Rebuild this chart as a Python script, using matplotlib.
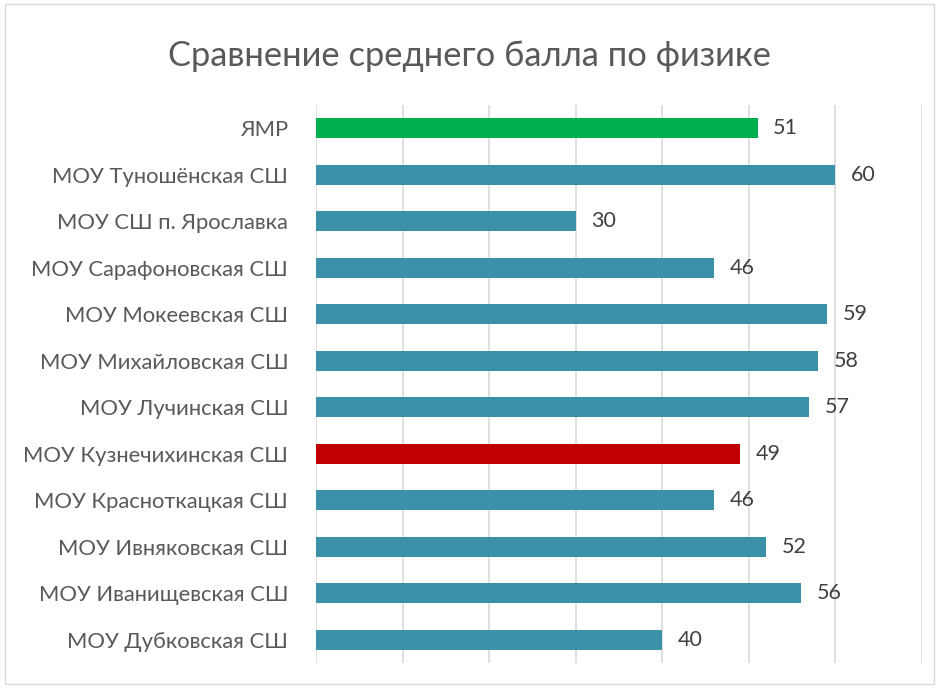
import matplotlib
matplotlib.use("Agg")
import matplotlib.pyplot as plt

categories = ["МОУ Дубковская СШ", "МОУ Иванищевская СШ", "МОУ Ивняковская СШ",
              "МОУ Красноткацкая СШ", "МОУ Кузнечихинская СШ", "МОУ Лучинская СШ",
              "МОУ Михайловская СШ", "МОУ Мокеевская СШ", "МОУ Сарафоновская СШ",
              "МОУ СШ п. Ярославка", "МОУ Туношёнская СШ", "ЯМР"]
values = [40, 56, 52, 46, 49, 57, 58, 59, 46, 30, 60, 51]
highlight = {"МОУ Кузнечихинская СШ": "#C00000", "ЯМР": "#00B050"}
base_color = "#3A91A8"
title = "Сравнение среднего балла по физике"

plt.rcParams['font.family'] = ['Lato', 'DejaVu Sans']

fig = plt.figure(figsize=(9.39, 6.88), dpi=100)
ax = fig.add_axes([316/939, 1 - 663/688, (922-316)/939, (663-105)/688])

colors = [highlight.get(c, base_color) for c in categories]
y = range(len(categories))
ax.barh(y, values, height=0.43, color=colors, zorder=3)
for yi, v in zip(y, values):
    ax.text(v + 1.8, yi, str(v), va='center', ha='left', fontsize=15.5, color='#404040')

ax.set_xlim(0, 70)
ax.set_ylim(-0.5, len(categories) - 0.5)
ax.set_xticks(range(0, 71, 10))
ax.tick_params(axis='x', length=0, labelbottom=False)
ax.tick_params(axis='y', length=0, pad=20)
ax.set_yticks(list(y))
ax.set_yticklabels(categories, fontsize=15.8, color='#595959')
ax.grid(axis='x', color='#D9D9D9', linewidth=1.2, zorder=0)
for s in ax.spines.values():
    s.set_visible(False)

fig.text(0.5, 1 - 56/688, title, ha='center', va='center', fontsize=24.8, color='#595959')

border = plt.Rectangle((5/939, 4/688), 929/939, 680/688, transform=fig.transFigure,
                       fill=False, edgecolor='#D9D9D9', linewidth=1)
fig.patches.append(border)

fig.savefig("out.png", dpi=100)
